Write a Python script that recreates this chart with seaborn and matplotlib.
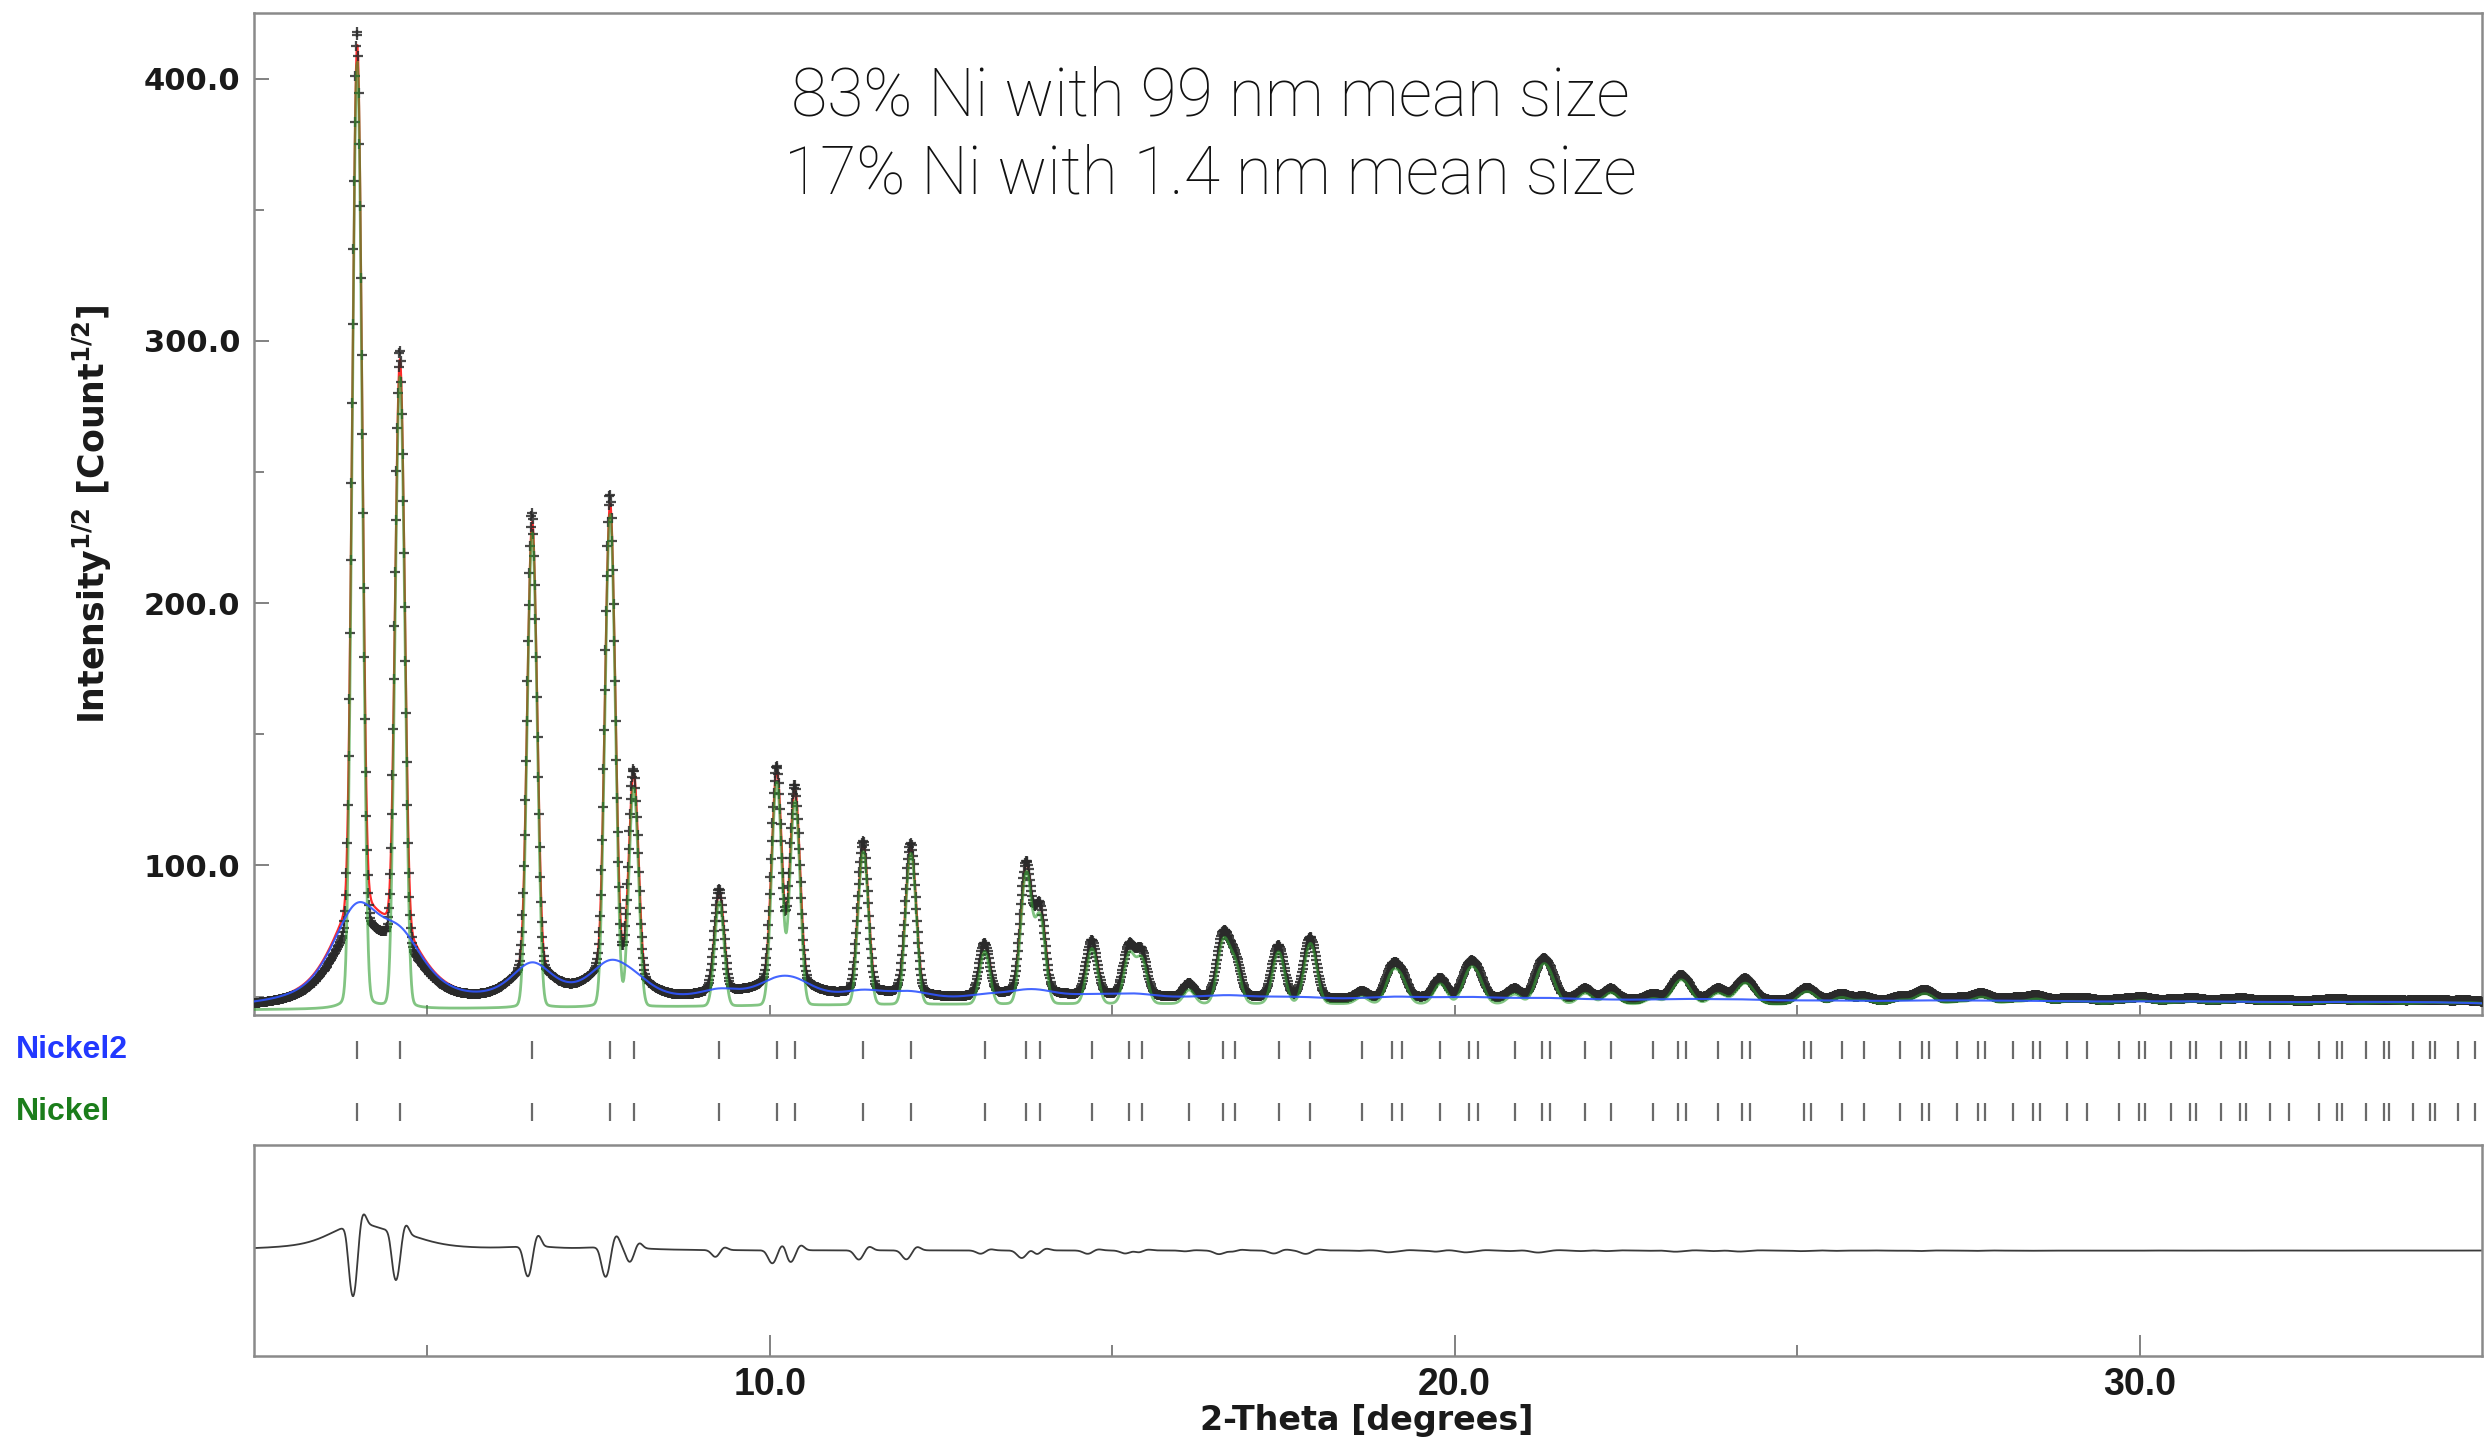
import numpy as np
import matplotlib
matplotlib.use("Agg")
import matplotlib.pyplot as plt
import seaborn as sns

# ---------------------------------------------------------------------------
# fcc Ni reflections (2-theta, degrees) shared by both phases
reflections = [
    3.977, 4.601, 6.532, 7.670, 8.014, 9.264, 10.103, 10.368, 11.366, 12.061,
    13.139, 13.747, 13.944, 14.705, 15.251, 15.430, 16.123, 16.624, 16.788, 17.429,
    17.895, 18.646, 19.083, 19.226, 19.791, 20.204, 20.340, 20.876, 21.269, 21.399,
    21.909, 22.285, 22.898, 23.259, 23.378, 23.848, 24.195, 24.310, 25.099, 25.210,
    25.649, 25.973, 26.506, 26.821, 26.925, 27.338, 27.645, 27.746, 28.148, 28.446,
    28.544, 28.936, 29.226, 29.705, 29.989, 30.083, 30.456, 30.735, 30.826, 31.191,
    31.463, 31.553, 31.911, 32.177, 32.616, 32.877, 32.962, 33.307, 33.563, 33.648,
    33.986, 34.238, 34.320, 34.653, 34.900,
]

# calculated peak tops, sqrt(counts)
peak_tops = [
    413, 293, 231, 238, 135, 90, 136, 129, 108, 107,
    70, 100, 84, 71, 69, 67, 55, 73, 65, 69,
    72, 52, 60, 58, 57, 60, 58, 53, 61, 57,
    53, 53, 51, 55, 54, 53, 54, 53, 51.5, 51,
    51, 50, 50, 51, 50.5, 49.5, 50, 50, 49.5, 49.5,
    49.5, 49.3, 49.3, 49, 49, 49, 48.8, 48.8, 48.8, 48.7,
    48.7, 48.7, 48.5, 48.5, 48.5, 48.5, 48.5, 48.4, 48.4, 48.4,
    48.3, 48.3, 48.3, 48.2, 48.2,
]

# FWHM of the Nickel (99 nm) peaks, degrees
peak_fwhm = [
    0.130, 0.130, 0.135, 0.140, 0.140, 0.145, 0.150, 0.150, 0.155, 0.160,
    0.165, 0.170, 0.170, 0.175, 0.180, 0.180, 0.185, 0.190, 0.190, 0.195,
    0.200, 0.205, 0.210, 0.210, 0.215, 0.220, 0.220, 0.225, 0.230, 0.230,
    0.235, 0.240, 0.245, 0.250, 0.250, 0.255, 0.260, 0.260, 0.270, 0.270,
    0.275, 0.280, 0.285, 0.290, 0.290, 0.295, 0.300, 0.300, 0.305, 0.310,
    0.310, 0.315, 0.320, 0.325, 0.330, 0.330, 0.335, 0.340, 0.340, 0.345,
    0.350, 0.350, 0.355, 0.360, 0.365, 0.370, 0.370, 0.375, 0.380, 0.380,
    0.385, 0.390, 0.390, 0.395, 0.400,
]

# Nickel2 (1.4 nm) peak amplitudes (counts) and FWHM (degrees)
broad_amp = [
    4600, 2600, 1600, 1500, 500, 400, 600, 550, 350, 320,
    180, 250, 200, 160, 130, 120, 70, 110, 90, 100,
    100, 50, 80, 70, 60, 70, 60, 40, 60, 50,
    40, 40, 35, 45, 40, 35, 40, 40, 30, 30,
    28, 26, 25, 28, 26, 24, 24, 24, 22, 22,
    22, 20, 20, 20, 20, 20, 18, 18, 18, 18,
    16, 16, 16, 16, 16, 16, 16, 16, 16, 16,
    16, 16, 16, 16, 16,
]
broad_fwhm = [
    0.80, 0.80, 0.72, 0.74, 0.74, 0.76, 0.78, 0.78, 0.80, 0.82,
    0.84, 0.86, 0.86, 0.88, 0.90, 0.90, 0.92, 0.94, 0.94, 0.96,
    0.98, 1.00, 1.02, 1.02, 1.04, 1.06, 1.06, 1.08, 1.10, 1.10,
    1.15, 1.15, 1.15, 1.15, 1.15, 1.15, 1.15, 1.15, 1.15, 1.15,
    1.15, 1.15, 1.15, 1.15, 1.15, 1.25, 1.25, 1.25, 1.25, 1.25,
    1.25, 1.25, 1.25, 1.25, 1.25, 1.25, 1.25, 1.25, 1.25, 1.25,
    1.25, 1.25, 1.25, 1.25, 1.25, 1.25, 1.25, 1.25, 1.25, 1.25,
    1.25, 1.25, 1.25, 1.25, 1.25,
]

# background level, sqrt(counts)
bg_x = [2.47, 5.0, 8.0, 10.0, 12.0, 15.0, 20.0, 25.0, 30.0, 35.0]
bg_y = [45.0, 45.3, 46.0, 46.5, 47.0, 47.3, 47.3, 47.1, 46.9, 46.8]

# refinement residuals: measured peaks sit slightly lower in 2-theta,
# are a little taller, and carry less nanocrystalline scattering
obs_shift = -0.004
obs_sharp_gain = 1.035
obs_broad_gain = [0.72, 0.80, 0.92, 0.92, 0.96]

phase_names = ["Nickel2", "Nickel"]
phase_colors = ["#2238ff", "#1b7d1b"]
note_lines = ["83% Ni with 99 nm mean size", "17% Ni with 1.4 nm mean size"]

# ---------------------------------------------------------------------------
tt = np.arange(2.47, 35.0 + 1e-9, 0.01)
pos = np.array(reflections)
n = len(pos)


def pvoigt(x, c, w, eta):
    d = (x - c) / w
    return eta / (1.0 + 4.0 * d ** 2) + (1 - eta) * np.exp(-4 * np.log(2) * d ** 2)


def broad_profile(x, gains):
    out = np.zeros_like(x, dtype=float)
    for p, a, w, g in zip(pos, broad_amp, broad_fwhm, gains):
        out += g * a * pvoigt(x, p, w, 0.7)
    return out


ones = np.ones(n)
gain_obs = ones.copy()
gain_obs[:len(obs_broad_gain)] = obs_broad_gain

bg = np.interp(tt, bg_x, bg_y) ** 2
broad_c = broad_profile(tt, ones)
blue_at_pos2 = np.interp(pos, bg_x, bg_y) ** 2 + broad_profile(pos, ones)
sharp_amp = np.clip(np.array(peak_tops) ** 2 - blue_at_pos2, 0, None)

sharp_c = np.zeros_like(tt)
sharp_o = np.zeros_like(tt)
for p, a, w in zip(pos, sharp_amp, peak_fwhm):
    sharp_c += a * pvoigt(tt, p, w, 0.02)
    sharp_o += obs_sharp_gain * a * pvoigt(tt, p + obs_shift, w, 0.02)
broad_o = broad_profile(tt, gain_obs)

calc = np.sqrt(bg + broad_c + sharp_c)
obs = np.sqrt(bg + broad_o + sharp_o)
green = np.sqrt(bg + sharp_c)
blue = np.sqrt(bg + broad_c)
diff = calc - obs

# ---------------------------------------------------------------------------
sns.set_theme(style="white")
plt.rcParams["font.family"] = ["DejaVu Sans"]
plt.rcParams["mathtext.fontset"] = "dejavusans"

W, H = 2487, 1445
fig = plt.figure(figsize=(W / 100, H / 100), dpi=100)
L, R = 254, 2482
ax = fig.add_axes([L / W, 1 - 1015 / H, (R - L) / W, (1015 - 13) / H])
axt = fig.add_axes([L / W, 1 - 1145 / H, (R - L) / W, (1145 - 1015) / H])
axd = fig.add_axes([L / W, 1 - 1356 / H, (R - L) / W, (1356 - 1145) / H])

xlim = (2.47, 35.0)

# main panel
sns.lineplot(x=tt, y=calc, ax=ax, color="#ff2a2a", lw=1.6, estimator=None,
             sort=False, zorder=2)
sns.scatterplot(x=tt, y=obs, ax=ax, marker="+", s=45, linewidth=1.6,
                color="#2a2a2a", alpha=0.85, zorder=3)
sns.lineplot(x=tt, y=green, ax=ax, color="#2f9e2f", lw=2.0, alpha=0.6,
             estimator=None, sort=False, zorder=4)
sns.lineplot(x=tt, y=blue, ax=ax, color="#2f55ff", lw=1.5, alpha=0.9,
             estimator=None, sort=False, zorder=5)
ax.set_xlim(*xlim)
ax.set_ylim(43, 425)
ax.set_xlabel("")
ax.set_ylabel("")

spine_col = "#8a8a8a"
for a in (ax, axd):
    for s in a.spines.values():
        s.set_visible(True)
        s.set_color(spine_col)
        s.set_linewidth(1.8)

ax.set_yticks([100, 200, 300, 400])
ax.set_yticklabels(["100.0", "200.0", "300.0", "400.0"], fontweight="bold",
                   fontsize=22, color="#1a1a1a")
ax.set_yticks([50, 150, 250, 350], minor=True)
ax.set_xticks([10, 20, 30])
ax.set_xticks([5, 15, 25], minor=True)
ax.tick_params(axis="y", which="major", direction="in", length=11, width=1.3,
               color="#777777", pad=10, left=True, right=False)
ax.tick_params(axis="y", which="minor", direction="in", length=7, width=1.3,
               color="#777777", left=True, right=False)
ax.tick_params(axis="x", which="both", direction="in", length=7, width=1.3,
               color="#777777", labelbottom=False, bottom=True, top=False)

# reflection markers
axt.set_xlim(*xlim)
axt.set_ylim(0, 1)
axt.axis("off")
rows = [0.731, 0.254]
for yc in rows:
    axt.vlines(pos, yc - 0.07, yc + 0.07, color="#6a6a6a", lw=1.6)
for name, col, yc in zip(phase_names, phase_colors, [1050, 1112]):
    fig.text(16 / W, 1 - yc / H, name, color=col, fontsize=23,
             fontweight="bold", family=["Liberation Sans", "DejaVu Sans"],
             ha="left", va="center")

# difference panel
sns.lineplot(x=tt, y=diff, ax=axd, color="#3a3a3a", lw=1.3, estimator=None,
             sort=False)
axd.set_xlim(*xlim)
axd.set_ylim(-33, 33)
axd.set_yticks([])
axd.set_xlabel("")
axd.set_ylabel("")
axd.set_xticks([10, 20, 30])
axd.set_xticklabels(["10.0", "20.0", "30.0"], fontsize=27, fontweight="bold",
                    family=["Liberation Sans Narrow", "Liberation Sans"],
                    color="#1a1a1a")
axd.set_xticks([5, 15, 25], minor=True)
axd.tick_params(axis="x", which="major", direction="in", length=15, width=1.3,
                color="#777777", pad=8, bottom=True, top=False)
axd.tick_params(axis="x", which="minor", direction="in", length=8, width=1.3,
                color="#777777", bottom=True, top=False)

# axis titles
fig.text(92 / W, 1 - 514 / H,
         r"Intensity$^{\mathbf{1/2}}$ [Count$^{\mathbf{1/2}}$]",
         rotation=90, ha="center", va="center", fontsize=25,
         fontweight="bold", color="#1a1a1a")
fig.text(1367 / W, 1 - 1430 / H, "2-Theta [degrees]", ha="center",
         va="baseline", fontsize=24, fontweight="bold", color="#1a1a1a")

# phase fractions
for line, yb in zip(note_lines, [116, 193]):
    fig.text(1210 / W, 1 - yb / H, line, ha="center", va="baseline",
             fontsize=47.5, fontweight="light", family=["Roboto", "DejaVu Sans"],
             color="#111111")

fig.savefig("out.png", dpi=100)
